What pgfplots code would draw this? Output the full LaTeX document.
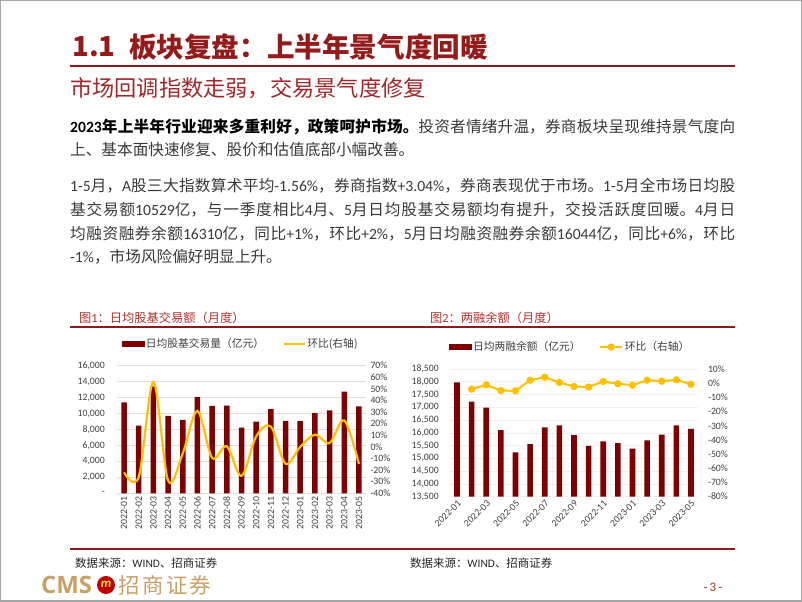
\documentclass[border=0pt]{standalone}
\usepackage{pgfplots}
\pgfplotsset{compat=1.18}
\usepackage{fontspec}
\setmainfont{Noto Sans CJK SC}
\newfontfamily\carl{Carlito}
\newfontfamily\osans{Open Sans}
\XeTeXlinebreaklocale "zh"
\XeTeXlinebreakskip=0pt plus 3pt minus 0.5pt
\definecolor{barred}{HTML}{800000}
\definecolor{lineor}{HTML}{FFC000}
\definecolor{titlered}{HTML}{951A1A}
\definecolor{subred}{HTML}{A0282A}
\definecolor{capred}{HTML}{B0302A}
\definecolor{rulered}{HTML}{8E1B1B}
\definecolor{txtgray}{HTML}{3A3A3A}
\definecolor{tickgray}{HTML}{404040}
\definecolor{logogold}{HTML}{C9A063}
\newcommand{\jl}[1]{\parbox{665bp}{\tolerance=10000\parfillskip=0pt\relax #1}}
\newcommand{\lt}[1]{{\carl #1}}
\newcommand{\lf}{\fontsize{10.8}{12}\selectfont}
\pgfplotsset{
  barleg/.style={legend image code/.code={\fill[barred] (0bp,-2.5bp) rectangle (22bp,2.5bp);}},
  lineleg/.style={legend image code/.code={\draw[lineor, line width=2.2bp] (0bp,0bp) -- (21bp,0bp);}},
  mkleg/.style={legend image code/.code={\draw[lineor, line width=2bp, mark=*, mark size=2.6bp, mark options={fill=lineor, draw=lineor}, mark repeat=2, mark phase=2] plot coordinates {(0bp,0bp) (11bp,0bp) (22bp,0bp)};}},
  tl/.style={ticklabel style={font=\carl\fontsize{9.8}{10}\selectfont, text=tickgray}, scaled y ticks=false, scaled x ticks=false},
  lgs/.style={legend style={at={#1}, anchor=center, draw=none, fill=none,
    text=tickgray, legend columns=2,
    nodes={inner sep=1.5bp},
    /tikz/every even column/.append style={column sep=17bp}},
    legend cell align=left},
}
\begin{document}
\begin{tikzpicture}[x=1bp,y=1bp]
\path[use as bounding box] (0,0) rectangle (802,602);
\fill[white] (0,0) rectangle (802,602);
\draw[gray!70, line width=1.5bp] (0.75,0.75) rectangle (801.25,601.25);
% title
\node[anchor=west, inner sep=0, text=titlered, font=\bfseries\fontsize{27.7}{30}\selectfont] at (72,555) {1.1};
\node[anchor=west, inner sep=0, text=titlered, font=\bfseries\fontsize{27.7}{30}\selectfont] at (129,555) {板块复盘：上半年景气度回暖};
\draw[rulered, line width=1.5bp] (70,536) -- (735,536);
\node[anchor=west, inner sep=0, text=subred, font=\fontsize{22.3}{24}\selectfont] at (70,514) {市场回调指数走弱，交易景气度修复};
% body
\begin{scope}[every node/.style={anchor=west, inner sep=0, text=txtgray, font=\fontsize{15.7}{18}\selectfont}]
\node at (70,475) {\jl{{\bfseries\color{black}\lt{2023}年上半年行业迎来多重利好，政策呵护市场。}投资者情绪升温，券商板块呈现维持景气度向}};
\node at (70,452) {上、基本面快速修复、股价和估值底部小幅改善。};
\node at (70,416) {\jl{\lt{1-5}月，\lt{A}股三大指数算术平均\lt{-1.56\%}，券商指数\lt{+3.04\%}，券商表现优于市场。\lt{1-5}月全市场日均股}};
\node at (70,392) {\jl{基交易额\lt{10529}亿，与一季度相比\lt{4}月、\lt{5}月日均股基交易额均有提升，交投活跃度回暖。\lt{4}月日}};
\node at (70,368) {\jl{均融资融券余额\lt{16310}亿，同比\lt{+1\%}，环比\lt{+2\%}，\lt{5}月日均融资融券余额\lt{16044}亿，同比\lt{+6\%}，环比}};
\node at (70,345) {\lt{-1\%}，市场风险偏好明显上升。};
\end{scope}
% captions
\node[anchor=west, inner sep=0, text=capred, font=\fontsize{12.3}{14}\selectfont] at (79,284) {图\lt{1}：日均股基交易额（月度）};
\node[anchor=west, inner sep=0, text=capred, font=\fontsize{12.3}{14}\selectfont] at (430,284) {图\lt{2}：两融余额（月度）};
\draw[rulered, line width=1.2bp] (70,275) -- (735,275);
\draw[rulered, line width=1.2bp] (70,53) -- (735,53);
\node[anchor=west, inner sep=0, text=black!85, font=\fontsize{11.5}{13}\selectfont] at (75,39) {数据来源：\lt{WIND}、招商证券};
\node[anchor=west, inner sep=0, text=black!85, font=\fontsize{11.5}{13}\selectfont] at (410,39) {数据来源：\lt{WIND}、招商证券};
% footer
\node[anchor=west, inner sep=0, text=logogold, font=\osans\bfseries\fontsize{24}{26}\selectfont] at (41,17) {CMS};
\fill[red!75!black] (106,17) circle (9);
\node[text=yellow!85!orange, font=\carl\bfseries\itshape\fontsize{13}{13}\selectfont, inner sep=0] at (106,17.5) {m};
\node[anchor=west, inner sep=0, text=logogold, font=\fontsize{21.5}{24}\selectfont] at (118,17) {招\hspace{2.5bp}商\hspace{2.5bp}证\hspace{2.5bp}券};
\node[inner sep=0, text=capred, font=\carl\fontsize{13}{14}\selectfont] at (713,15) {-\,3\,-};

% ===== Chart 1 =====
\begin{axis}[at={(116.7bp,108.7bp)}, anchor=south west, scale only axis,
  width=249.6bp, height=127.6bp,
  xmin=-0.5, xmax=16.5, ymin=0, ymax=16000,
  axis line style={draw=none}, major tick length=0pt,
  ymajorgrids, grid style={draw=gray!25, line width=0.6bp},
  ytick={0,2000,...,16000},
  yticklabels={{-},{2,000},{4,000},{6,000},{8,000},{10,000},{12,000},{14,000},{16,000}},
  xtick={0,...,16},
  xticklabels={2022-01,2022-02,2022-03,2022-04,2022-05,2022-06,2022-07,2022-08,2022-09,2022-10,2022-11,2022-12,2023-01,2023-02,2023-03,2023-04,2023-05},
  tl,
  x tick label style={rotate=90, anchor=east, inner sep=3.5bp},
  yticklabel style={anchor=east, inner sep=0pt, xshift=-11.7bp},
]
\addplot[ybar, bar width=5.5bp, fill=barred, draw=none] coordinates {
(0,11400) (1,8500) (2,13400) (3,9700) (4,9200) (5,12050) (6,10950) (7,11000) (8,8250)
(9,9000) (10,10550) (11,9050) (12,9050) (13,10050) (14,10400) (15,12750) (16,10900)};
\end{axis}
\begin{axis}[at={(116.7bp,108.7bp)}, anchor=south west, scale only axis,
  width=249.6bp, height=127.6bp,
  xmin=-0.5, xmax=16.5, ymin=-40, ymax=70,
  axis x line=none, axis y line*=right, axis line style={draw=none}, major tick length=0pt,
  ytick={-40,-30,...,70},
  yticklabels={{-40\%},{-30\%},{-20\%},{-10\%},{0\%},{10\%},{20\%},{30\%},{40\%},{50\%},{60\%},{70\%}},
  tl,
  yticklabel style={anchor=west, inner sep=0pt, xshift=4bp},
  lgs={(0.496,1.17)},
]
\addlegendimage{barleg}\addlegendentry{\lf 日均股基交易量（亿元）}
\addplot[lineor, line width=2.2bp, smooth, tension=0.55, lineleg] coordinates {
(0,-22) (1,-26) (2,56) (3,-29) (4,-5.5) (5,31) (6,-9.5) (7,0.5) (8,-25)
(9,9) (10,17.5) (11,-14.5) (12,0) (13,10.5) (14,3.3) (15,22.8) (16,-14.8)};
\addlegendentry{\lf 环比(右轴)}
\end{axis}

% ===== Chart 2 =====
\begin{axis}[at={(449.7bp,105.3bp)}, anchor=south west, scale only axis,
  width=248.6bp, height=127.7bp,
  xmin=-0.5, xmax=16.5, ymin=13500, ymax=18500,
  axis line style={draw=none}, major tick length=0pt,
  ymajorgrids, grid style={draw=gray!12, line width=0.6bp},
  ytick={13500,14000,...,18500},
  yticklabels={{13,500},{14,000},{14,500},{15,000},{15,500},{16,000},{16,500},{17,000},{17,500},{18,000},{18,500}},
  xtick={0,2,...,16},
  xticklabels={2022-01,2022-03,2022-05,2022-07,2022-09,2022-11,2023-01,2023-03,2023-05},
  tl,
  x tick label style={rotate=45, anchor=north east, inner sep=2bp},
  yticklabel style={anchor=east, inner sep=0pt, xshift=-10.7bp},
]
\addplot[ybar, bar width=5.7bp, fill=barred, draw=none] coordinates {
(0,17980) (1,17220) (2,16990) (3,16110) (4,15240) (5,15560) (6,16215) (7,16290) (8,15915)
(9,15485) (10,15670) (11,15600) (12,15380) (13,15710) (14,15930) (15,16290) (16,16160)};
\end{axis}
\begin{axis}[at={(449.7bp,105.3bp)}, anchor=south west, scale only axis,
  width=248.6bp, height=127.7bp,
  xmin=-0.5, xmax=16.5, ymin=-80, ymax=10,
  axis x line=none, axis y line*=right, axis line style={draw=none}, major tick length=0pt,
  ytick={-80,-70,...,10},
  yticklabels={{-80\%},{-70\%},{-60\%},{-50\%},{-40\%},{-30\%},{-20\%},{-10\%},{0\%},{10\%}},
  tl,
  yticklabel style={anchor=west, inner sep=0pt, xshift=9.5bp},
  lgs={(0.484,1.172)},
]
\addlegendimage{barleg}\addlegendentry{\lf 日均两融余额（亿元）}
\addplot[lineor, line width=2bp, mark=*, mark size=2.6bp, mark options={fill=lineor, draw=lineor}, mkleg] coordinates {
(1,-4.2) (2,-1.2) (3,-5.2) (4,-5.4) (5,2.1) (6,4.2) (7,0.5) (8,-2.3)
(9,-2.7) (10,1.2) (11,-0.4) (12,-1.4) (13,2.1) (14,1.4) (15,2.4) (16,-0.8)};
\addlegendentry{\lf 环比（右轴）}
\end{axis}
\end{tikzpicture}
\end{document}
